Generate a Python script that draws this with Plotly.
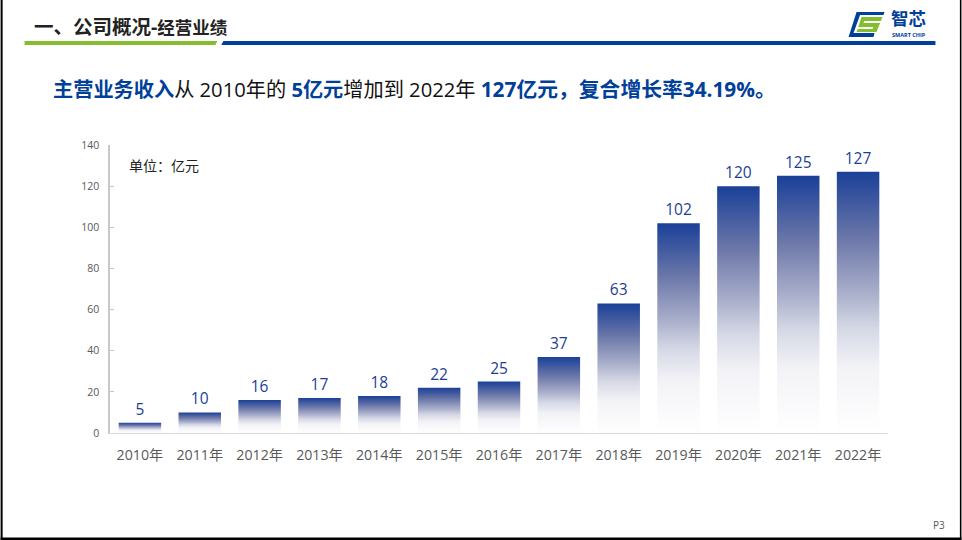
import plotly.graph_objects as go

years = ['2010年', '2011年', '2012年', '2013年', '2014年', '2015年', '2016年',
         '2017年', '2018年', '2019年', '2020年', '2021年', '2022年']
revenue = [5, 10, 16, 17, 18, 22, 25, 37, 63, 102, 120, 125, 127]
y_ticks = [0, 20, 40, 60, 80, 100, 120, 140]

W, H = 962, 540
L, R, T, B = 109.5, 888.5, 145, 433
FONT = 'Open Sans, Noto Sans CJK SC, sans-serif'
BLUE = '#00409a'
GREEN = '#84bd2e'


# page pixels -> paper coords, the slide furniture is all placed by pixel
def px(x):
    return (x - L) / (R - L)


def py(y):
    return (B - y) / (B - T)


def poly(points, color):
    path = 'M ' + ' L '.join(f'{px(x):.4f} {py(y):.4f}' for x, y in points) + ' Z'
    return dict(type='path', xref='paper', yref='paper', path=path,
                fillcolor=color, line_width=0, layer='above')


def label(x, y, text, size, color='#222222', anchor='left'):
    return dict(x=px(x), y=py(y), xref='paper', yref='paper', text=text, showarrow=False,
                xanchor=anchor, yanchor='middle', align=anchor, borderpad=0,
                font=dict(family=FONT, size=size, color=color))


fig = go.Figure(go.Bar(
    x=years,
    y=revenue,
    width=0.71,
    marker=dict(color='#1a4098', line_width=0),
    text=revenue,
    textposition='outside',
    cliponaxis=False,
    textfont=dict(family=FONT, size=15.5, color='#1c3f94'),
))

shapes = [
    poly([(24, 41), (217, 41), (215, 45), (24, 45)], GREEN),
    poly([(223, 41), (936, 41), (936, 45), (221, 45)], BLUE),
    # logo
    poly([(857, 12), (885, 12), (884, 15), (860.5, 15), (854, 33), (875, 33), (874, 37), (849, 37)], BLUE),
    poly([(862, 17), (883, 17), (877, 32), (857, 32)], GREEN),
    poly([(865, 21), (882, 21), (881, 23), (864, 23)], '#ffffff'),
    poly([(858, 27), (874, 27), (873, 29), (857, 29)], '#ffffff'),
    # slide edge
    poly([(0, 0), (2, 0), (2, 540), (0, 540)], '#000000'),
    poly([(0, 537.5), (962, 537.5), (962, 540), (0, 540)], '#000000'),
    poly([(960.5, 0), (962, 0), (962, 540), (960.5, 540)], '#000000'),
]

headline = ('<b><span style="color:#00409a">主营业务收入</span></b>从 2010年的 '
            '<b><span style="color:#00409a">5亿元</span></b>增加到 2022年 '
            '<b><span style="color:#00409a;font-size:20.8px">127亿元，复合增长率34.19%。</span></b>')

annotations = [
    label(32, 27, '<b>一、公司概况-<span style="font-size:17.5px">经营业绩</span></b>', 19.5),
    label(51, 89, headline, 20.2, color='#111111'),
    label(128, 165, '单位：亿元', 14),
    label(891, 18, '<b>智芯</b>', 17.5, color=BLUE),
    label(892, 34.5, '<b>SMART CHIP</b>', 5.5, color=BLUE),
    label(933, 525, 'P3', 10, color='#595959'),
]

fig.update_layout(
    width=W,
    height=H,
    autosize=False,
    margin=dict(l=L, r=W - R, t=T, b=H - B, pad=0),
    paper_bgcolor='white',
    plot_bgcolor='white',
    showlegend=False,
    shapes=shapes,
    annotations=annotations,
    xaxis=dict(showline=True, linecolor='#d9d9d9', linewidth=1, ticks='', ticklabelstandoff=9,
               tickfont=dict(family=FONT, size=14.2, color='#595959'), showgrid=False),
    yaxis=dict(range=[0, 140], tickvals=y_ticks, showline=True, linecolor='#c8c8c8', linewidth=1.5,
               ticks='inside', ticklen=4, tickcolor='#c8c8c8', showgrid=False, zeroline=False,
               ticklabelstandoff=7, tickfont=dict(family=FONT, size=10.5, color='#595959')),
)

# plotly bars only take flat fills, so swap in an svg gradient once drawn
gradient = """
document.body.style.margin = '0';
document.body.style.overflow = 'hidden';
var gd = document.getElementsByClassName('plotly-graph-div')[0];
var svg = gd.querySelector('svg.main-svg');
var ns = 'http://www.w3.org/2000/svg';
var defs = document.createElementNS(ns, 'defs');
var g = document.createElementNS(ns, 'linearGradient');
g.setAttribute('id', 'barfade');
g.setAttribute('x1', '0'); g.setAttribute('y1', '0');
g.setAttribute('x2', '0'); g.setAttribute('y2', '1');
[['0', '#1a4098'], ['0.25', '#6a76a8'], ['0.45', '#a5abc8'], ['0.6', '#d5d8e5'],
 ['0.75', '#f3f3f7'], ['1', '#ffffff']].forEach(function (s) {
    var stop = document.createElementNS(ns, 'stop');
    stop.setAttribute('offset', s[0]);
    stop.setAttribute('stop-color', s[1]);
    g.appendChild(stop);
});
defs.appendChild(g);
svg.insertBefore(defs, svg.firstChild);
gd.querySelectorAll('.bars .point path').forEach(function (p) {
    p.style.fill = 'url(#barfade)';
    p.style.fillOpacity = 1;
});
"""

fig.write_html("out.html", post_script=gradient, config=dict(displayModeBar=False))
